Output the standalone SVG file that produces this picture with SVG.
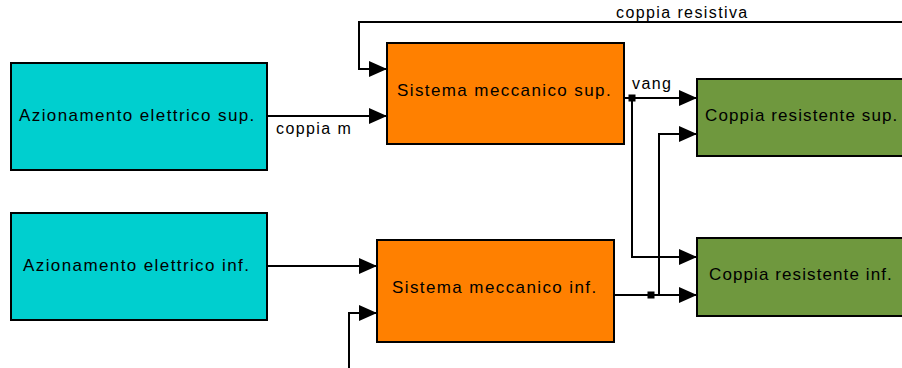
<svg xmlns="http://www.w3.org/2000/svg" width="902" height="368" viewBox="0 0 902 368">
<style>
  text { font-family: "Liberation Sans", Arial, sans-serif; font-size: 17px; letter-spacing: 1.4px; fill: #000; }
  text.lbl { font-size: 16px; }
  text.tight { letter-spacing: 1.1px; }
  .box { stroke: #000; stroke-width: 2; }
  .az { fill: #00cfcf; }
  .sm { fill: #ff8000; }
  .cr { fill: #6f983e; }
  .wire { fill: none; stroke: #000; stroke-width: 2; }
  .arr { marker-end: url(#ah); }
</style>
<defs>
  <marker id="ah" markerWidth="18" markerHeight="16" refX="18" refY="8" orient="auto" markerUnits="userSpaceOnUse">
    <path d="M0,0 L18,8 L0,16 z" fill="#000"/>
  </marker>
</defs>
<rect width="902" height="368" fill="#fff"/>

<g id="az-sup">
  <rect class="box az" x="11" y="63" width="256" height="107"/>
  <text x="19" y="121">Azionamento elettrico sup.</text>
</g>
<g id="az-inf">
  <rect class="box az" x="11" y="213" width="256" height="107"/>
  <text x="23" y="271">Azionamento elettrico inf.</text>
</g>
<g id="sm-sup">
  <rect class="box sm" x="387" y="43" width="237" height="101"/>
  <text x="397" y="96">Sistema meccanico sup.</text>
</g>
<g id="sm-inf">
  <rect class="box sm" x="377" y="240" width="237" height="102"/>
  <text x="392" y="293">Sistema meccanico inf.</text>
</g>
<g id="cr-sup">
  <rect class="box cr" x="697" y="79" width="215" height="77"/>
  <text class="tight" x="705" y="121">Coppia resistente sup.</text>
</g>
<g id="cr-inf">
  <rect class="box cr" x="697" y="238" width="215" height="78"/>
  <text class="tight" x="709" y="280">Coppia resistente inf.</text>
</g>

<g id="connectors">
  <path class="wire arr" d="M267,116 H387"/>
  <path class="wire arr" d="M267,266 H377"/>
  <path class="wire arr" d="M904,22 H359 V69 H387"/>
  <path class="wire arr" d="M349,370 V313 H377"/>
  <path class="wire arr" d="M624,98 H697"/>
  <path class="wire arr" d="M632,98 V257 H697"/>
  <path class="wire arr" d="M614,295 H697"/>
  <path class="wire arr" d="M659,295 V134 H697"/>
  <rect x="628.5" y="94.5" width="7" height="7" fill="#000"/>
  <rect x="647.5" y="291.5" width="7" height="7" fill="#000"/>
  <text class="lbl" x="276" y="134">coppia m</text>
  <text class="lbl" x="632" y="89">vang</text>
  <text class="lbl" x="616" y="18">coppia resistiva</text>
</g>
</svg>
